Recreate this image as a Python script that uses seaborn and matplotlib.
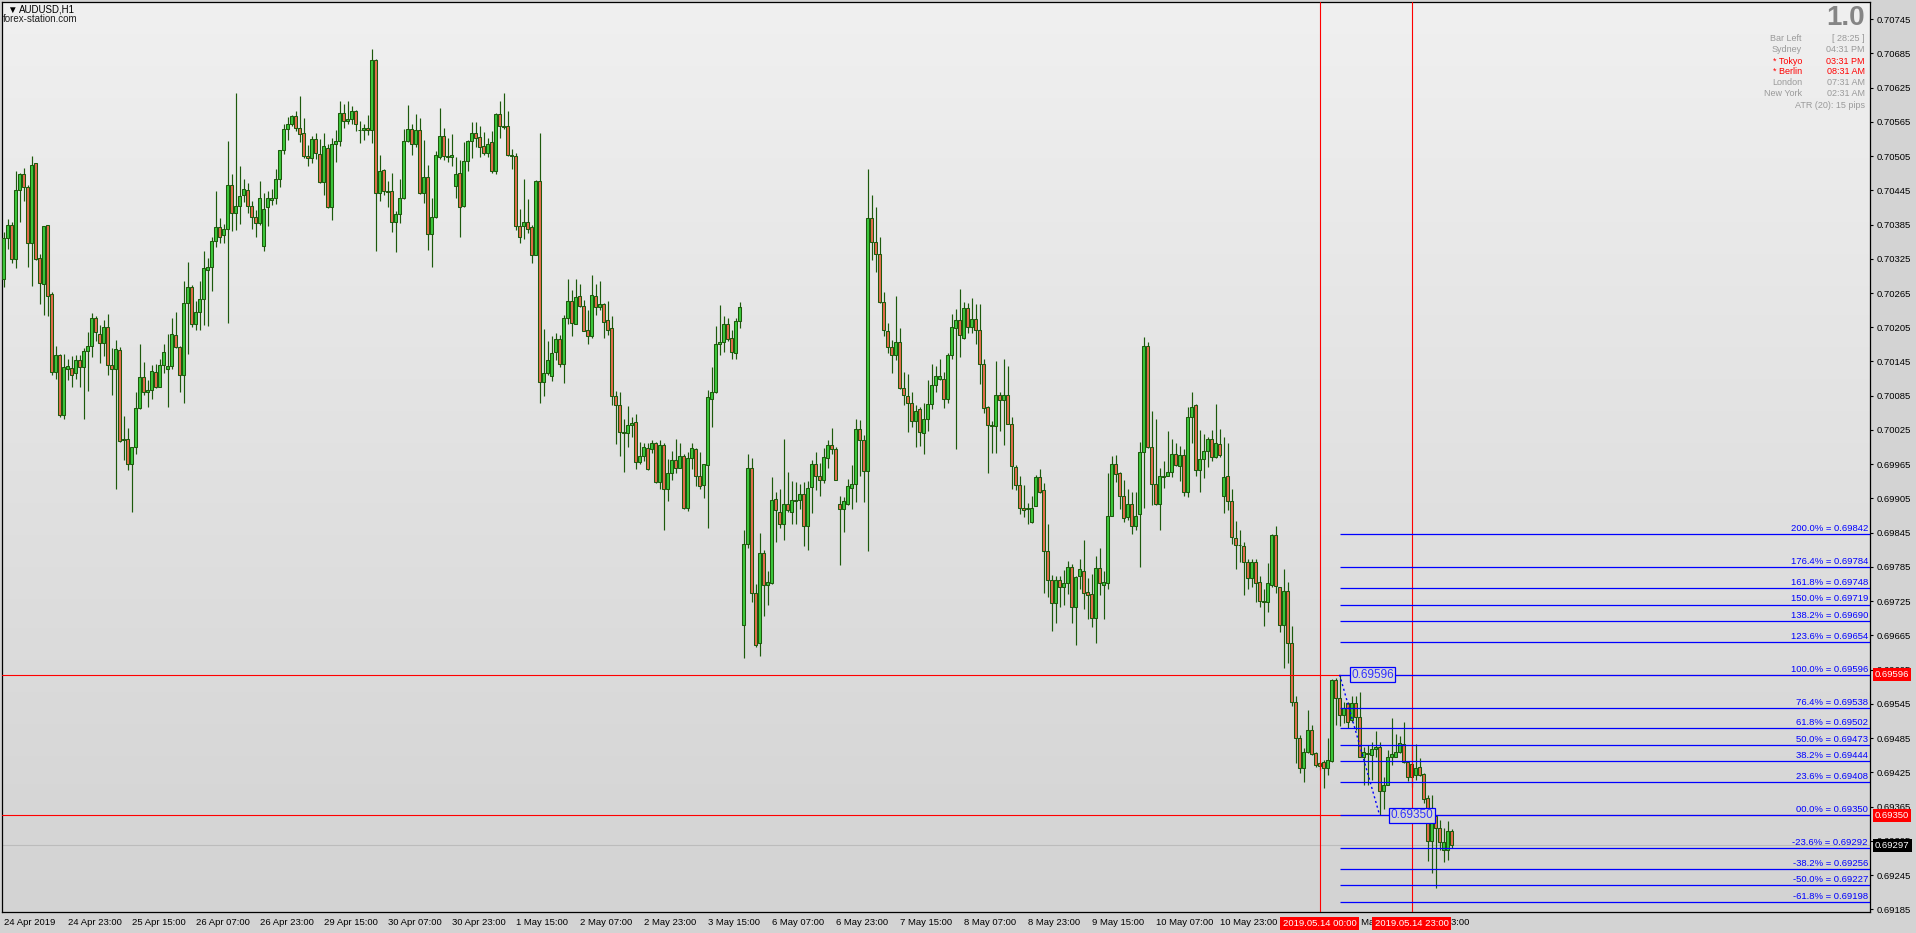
import numpy as np
import matplotlib
matplotlib.use("Agg")
import matplotlib.pyplot as plt
import matplotlib.transforms as mtransforms
from matplotlib.colors import LinearSegmentedColormap
from matplotlib.ticker import FormatStrFormatter
import seaborn as sns

# AUDUSD H1 candles, 24 Apr 2019 07:00 -> 15 May 2019 09:00
opens = [
    0.70289, 0.70362, 0.70384, 0.70324, 0.70445, 0.70473, 0.70451, 0.70353, 0.70492, 0.70326,
    0.70280, 0.70384, 0.70263, 0.70127, 0.70156, 0.70052, 0.70132, 0.70133, 0.70124, 0.70147,
    0.70136, 0.70163, 0.70172, 0.70222, 0.70194, 0.70177, 0.70206, 0.70138, 0.70131, 0.70165,
    0.70007, 0.70010, 0.69965, 0.69995, 0.70063, 0.70117, 0.70091, 0.70095, 0.70127, 0.70101,
    0.70138, 0.70132, 0.70137, 0.70191, 0.70171, 0.70121, 0.70247, 0.70275, 0.70211, 0.70232,
    0.70254, 0.70306, 0.70310, 0.70357, 0.70380, 0.70366, 0.70377, 0.70455, 0.70405, 0.70418,
    0.70437, 0.70445, 0.70417, 0.70398, 0.70387, 0.70347, 0.70415, 0.70428, 0.70431, 0.70464,
    0.70515, 0.70552, 0.70562, 0.70576, 0.70555, 0.70545, 0.70505, 0.70501, 0.70535, 0.70508,
    0.70460, 0.70520, 0.70416, 0.70527, 0.70531, 0.70581, 0.70567, 0.70570, 0.70584, 0.70551,
    0.70550, 0.70555, 0.70550, 0.70673, 0.70440, 0.70480, 0.70443, 0.70443, 0.70389, 0.70403,
    0.70431, 0.70531, 0.70552, 0.70526, 0.70550, 0.70441, 0.70468, 0.70368, 0.70399, 0.70504,
    0.70541, 0.70505, 0.70503, 0.70452, 0.70476, 0.70418, 0.70496, 0.70531, 0.70545, 0.70538,
    0.70522, 0.70511, 0.70529, 0.70478, 0.70578, 0.70557, 0.70557, 0.70506, 0.70505, 0.70382,
    0.70383, 0.70389, 0.70380, 0.70332, 0.70461, 0.70109, 0.70125, 0.70119, 0.70161, 0.70185,
    0.70141, 0.70221, 0.70251, 0.70211, 0.70259, 0.70242, 0.70200, 0.70189, 0.70259, 0.70241,
    0.70246, 0.70218, 0.70204, 0.70085, 0.70068, 0.70021, 0.70019, 0.70034, 0.70039, 0.69968,
    0.69979, 0.69993, 0.69992, 0.70003, 0.69934, 0.69999, 0.69921, 0.69949, 0.69973, 0.69959,
    0.69980, 0.69888, 0.69975, 0.69991, 0.69945, 0.69929, 0.69963, 0.70080, 0.70091, 0.70176,
    0.70180, 0.70210, 0.70186, 0.70160, 0.70216, 0.69684, 0.69826, 0.69958, 0.69740, 0.69651,
    0.69810, 0.69754, 0.69756, 0.69904, 0.69882, 0.69861, 0.69896, 0.69882, 0.69901, 0.69903,
    0.69912, 0.69857, 0.69925, 0.69965, 0.69945, 0.69938, 0.69975, 0.69998, 0.69992, 0.69896,
    0.69886, 0.69896, 0.69924, 0.69930, 0.70026, 0.70007, 0.69953, 0.70396, 0.70354, 0.70333,
    0.70249, 0.70198, 0.70171, 0.70156, 0.70179, 0.70098, 0.70084, 0.70073, 0.70041, 0.70061,
    0.70020, 0.70044, 0.70070, 0.70103, 0.70115, 0.70114, 0.70080, 0.70156, 0.70203, 0.70217,
    0.70187, 0.70238, 0.70206, 0.70219, 0.70200, 0.70140, 0.70065, 0.70033, 0.70032, 0.70086,
    0.70078, 0.70087, 0.70036, 0.69960, 0.69929, 0.69889, 0.69886, 0.69864, 0.69892, 0.69942,
    0.69919, 0.69813, 0.69762, 0.69721, 0.69762, 0.69749, 0.69756, 0.69784, 0.69714, 0.69769,
    0.69777, 0.69741, 0.69737, 0.69695, 0.69783, 0.69754, 0.69756, 0.69875, 0.69965, 0.69949,
    0.69910, 0.69873, 0.69896, 0.69856, 0.69877, 0.69986, 0.70173, 0.69996, 0.69930, 0.69896,
    0.69943, 0.69945, 0.69952, 0.69982, 0.69961, 0.69981, 0.69917, 0.70047, 0.70068, 0.69955,
    0.69974, 0.69988, 0.70009, 0.69977, 0.70000, 0.69909, 0.69945, 0.69900, 0.69836, 0.69824,
    0.69822, 0.69794, 0.69766, 0.69794, 0.69758, 0.69724, 0.69723, 0.69753, 0.69841, 0.69749,
    0.69684, 0.69742, 0.69651, 0.69549, 0.69486, 0.69433, 0.69460, 0.69500, 0.69458, 0.69441,
    0.69443, 0.69432, 0.69445, 0.69586, 0.69556, 0.69526, 0.69546, 0.69517, 0.69547, 0.69522,
    0.69452, 0.69457, 0.69455, 0.69465, 0.69469, 0.69393, 0.69402, 0.69451, 0.69452, 0.69461,
    0.69474, 0.69443, 0.69440, 0.69420, 0.69434, 0.69422, 0.69380, 0.69305, 0.69348, 0.69327,
    0.69288, 0.69288, 0.69323,
]
highs = [
    0.70372, 0.70394, 0.70390, 0.70479, 0.70475, 0.70484, 0.70454, 0.70505, 0.70493, 0.70333,
    0.70383, 0.70385, 0.70267, 0.70172, 0.70158, 0.70158, 0.70150, 0.70155, 0.70156, 0.70156,
    0.70169, 0.70197, 0.70230, 0.70224, 0.70209, 0.70217, 0.70228, 0.70168, 0.70182, 0.70171,
    0.70049, 0.70028, 0.69996, 0.70091, 0.70176, 0.70144, 0.70112, 0.70139, 0.70141, 0.70149,
    0.70176, 0.70194, 0.70222, 0.70231, 0.70172, 0.70286, 0.70319, 0.70279, 0.70251, 0.70286,
    0.70338, 0.70326, 0.70363, 0.70443, 0.70396, 0.70386, 0.70531, 0.70473, 0.70615, 0.70487,
    0.70464, 0.70457, 0.70426, 0.70410, 0.70461, 0.70440, 0.70444, 0.70447, 0.70482, 0.70515,
    0.70562, 0.70573, 0.70577, 0.70584, 0.70610, 0.70571, 0.70524, 0.70540, 0.70545, 0.70535,
    0.70545, 0.70527, 0.70536, 0.70551, 0.70601, 0.70597, 0.70601, 0.70593, 0.70586, 0.70566,
    0.70561, 0.70577, 0.70693, 0.70675, 0.70507, 0.70483, 0.70461, 0.70475, 0.70409, 0.70465,
    0.70552, 0.70594, 0.70562, 0.70579, 0.70571, 0.70533, 0.70490, 0.70431, 0.70513, 0.70589,
    0.70555, 0.70537, 0.70544, 0.70504, 0.70498, 0.70530, 0.70533, 0.70564, 0.70564, 0.70557,
    0.70547, 0.70536, 0.70549, 0.70581, 0.70602, 0.70615, 0.70584, 0.70517, 0.70511, 0.70412,
    0.70465, 0.70430, 0.70384, 0.70463, 0.70545, 0.70202, 0.70181, 0.70190, 0.70195, 0.70192,
    0.70227, 0.70290, 0.70270, 0.70290, 0.70281, 0.70253, 0.70235, 0.70297, 0.70281, 0.70286,
    0.70247, 0.70251, 0.70225, 0.70093, 0.70092, 0.70045, 0.70067, 0.70048, 0.70053, 0.70004,
    0.70002, 0.70002, 0.70008, 0.70004, 0.70008, 0.70002, 0.69974, 0.69988, 0.70009, 0.70002,
    0.69982, 0.69987, 0.70002, 0.69993, 0.69986, 0.69966, 0.70095, 0.70135, 0.70207, 0.70244,
    0.70225, 0.70222, 0.70200, 0.70222, 0.70250, 0.69850, 0.69983, 0.69976, 0.69755, 0.69844,
    0.69815, 0.69778, 0.69943, 0.69917, 0.69921, 0.70010, 0.69952, 0.69936, 0.69934, 0.69931,
    0.69934, 0.69935, 0.69973, 0.69986, 0.69967, 0.69993, 0.70007, 0.70028, 0.69996, 0.69909,
    0.69907, 0.69939, 0.69963, 0.70044, 0.70042, 0.70016, 0.70482, 0.70437, 0.70416, 0.70363,
    0.70266, 0.70212, 0.70183, 0.70260, 0.70203, 0.70126, 0.70123, 0.70091, 0.70069, 0.70066,
    0.70072, 0.70112, 0.70140, 0.70137, 0.70149, 0.70127, 0.70160, 0.70228, 0.70237, 0.70272,
    0.70249, 0.70247, 0.70256, 0.70246, 0.70246, 0.70150, 0.70067, 0.70041, 0.70146, 0.70091,
    0.70149, 0.70137, 0.70048, 0.69964, 0.69944, 0.69929, 0.69897, 0.69910, 0.69946, 0.69957,
    0.69932, 0.69860, 0.69771, 0.69769, 0.69769, 0.69780, 0.69795, 0.69790, 0.69769, 0.69798,
    0.69832, 0.69766, 0.69773, 0.69804, 0.69818, 0.69777, 0.69950, 0.69979, 0.69981, 0.69952,
    0.69938, 0.69921, 0.69916, 0.69916, 0.70004, 0.70188, 0.70179, 0.70059, 0.70045, 0.69958,
    0.69970, 0.70023, 0.70009, 0.70002, 0.69997, 0.69992, 0.70066, 0.70091, 0.70070, 0.70025,
    0.70018, 0.70013, 0.70025, 0.70070, 0.70027, 0.70013, 0.70002, 0.69921, 0.69865, 0.69850,
    0.69829, 0.69798, 0.69798, 0.69798, 0.69769, 0.69746, 0.69791, 0.69843, 0.69857, 0.69750,
    0.69782, 0.69759, 0.69682, 0.69559, 0.69491, 0.69467, 0.69534, 0.69508, 0.69460, 0.69444,
    0.69446, 0.69486, 0.69588, 0.69590, 0.69596, 0.69549, 0.69549, 0.69558, 0.69558, 0.69565,
    0.69470, 0.69473, 0.69478, 0.69498, 0.69478, 0.69416, 0.69464, 0.69521, 0.69493, 0.69489,
    0.69514, 0.69445, 0.69474, 0.69474, 0.69450, 0.69424, 0.69385, 0.69385, 0.69348, 0.69341,
    0.69327, 0.69340, 0.69325,
]
lows = [
    0.70275, 0.70343, 0.70318, 0.70308, 0.70390, 0.70427, 0.70311, 0.70278, 0.70323, 0.70246,
    0.70226, 0.70224, 0.70122, 0.70114, 0.70048, 0.70045, 0.70112, 0.70101, 0.70115, 0.70101,
    0.70045, 0.70094, 0.70152, 0.70181, 0.70143, 0.70154, 0.70121, 0.70086, 0.69922, 0.70004,
    0.69972, 0.69954, 0.69882, 0.69982, 0.70062, 0.70086, 0.70066, 0.70079, 0.70099, 0.70100,
    0.70124, 0.70066, 0.70132, 0.70169, 0.70092, 0.70073, 0.70158, 0.70205, 0.70200, 0.70200,
    0.70209, 0.70208, 0.70269, 0.70345, 0.70352, 0.70353, 0.70213, 0.70374, 0.70376, 0.70386,
    0.70425, 0.70406, 0.70378, 0.70364, 0.70385, 0.70339, 0.70383, 0.70420, 0.70421, 0.70450,
    0.70509, 0.70534, 0.70558, 0.70549, 0.70530, 0.70502, 0.70488, 0.70493, 0.70500, 0.70457,
    0.70437, 0.70414, 0.70393, 0.70495, 0.70523, 0.70555, 0.70561, 0.70561, 0.70549, 0.70528,
    0.70533, 0.70542, 0.70528, 0.70339, 0.70427, 0.70437, 0.70416, 0.70372, 0.70337, 0.70387,
    0.70430, 0.70530, 0.70506, 0.70521, 0.70439, 0.70423, 0.70341, 0.70311, 0.70396, 0.70499,
    0.70498, 0.70494, 0.70488, 0.70432, 0.70364, 0.70415, 0.70479, 0.70502, 0.70521, 0.70504,
    0.70507, 0.70504, 0.70475, 0.70474, 0.70537, 0.70552, 0.70505, 0.70483, 0.70375, 0.70352,
    0.70360, 0.70371, 0.70317, 0.70331, 0.70073, 0.70085, 0.70122, 0.70111, 0.70148, 0.70136,
    0.70108, 0.70211, 0.70189, 0.70210, 0.70240, 0.70198, 0.70175, 0.70187, 0.70226, 0.70235,
    0.70187, 0.70191, 0.70069, 0.70001, 0.69979, 0.69951, 0.69995, 0.70012, 0.69956, 0.69966,
    0.69970, 0.69955, 0.69984, 0.69932, 0.69922, 0.69849, 0.69901, 0.69938, 0.69949, 0.69958,
    0.69886, 0.69883, 0.69957, 0.69927, 0.69922, 0.69906, 0.69854, 0.70031, 0.70090, 0.70157,
    0.70161, 0.70181, 0.70150, 0.70150, 0.70203, 0.69626, 0.69818, 0.69724, 0.69644, 0.69628,
    0.69699, 0.69719, 0.69755, 0.69829, 0.69854, 0.69833, 0.69882, 0.69861, 0.69861, 0.69886,
    0.69822, 0.69815, 0.69880, 0.69920, 0.69910, 0.69932, 0.69958, 0.69983, 0.69937, 0.69789,
    0.69847, 0.69893, 0.69886, 0.69899, 0.69945, 0.69898, 0.69812, 0.70323, 0.70302, 0.70248,
    0.70190, 0.70159, 0.70125, 0.70148, 0.70096, 0.70068, 0.70022, 0.70031, 0.69996, 0.69997,
    0.69982, 0.70024, 0.70062, 0.70091, 0.70112, 0.70063, 0.70072, 0.70149, 0.69992, 0.70153,
    0.70185, 0.70195, 0.70195, 0.70176, 0.70105, 0.70055, 0.69950, 0.69985, 0.69984, 0.70024,
    0.69999, 0.70035, 0.69922, 0.69920, 0.69878, 0.69873, 0.69861, 0.69862, 0.69891, 0.69915,
    0.69740, 0.69733, 0.69672, 0.69687, 0.69715, 0.69718, 0.69738, 0.69686, 0.69649, 0.69747,
    0.69711, 0.69693, 0.69680, 0.69651, 0.69735, 0.69693, 0.69747, 0.69874, 0.69934, 0.69887,
    0.69864, 0.69867, 0.69842, 0.69850, 0.69784, 0.69889, 0.69993, 0.69894, 0.69894, 0.69849,
    0.69923, 0.69944, 0.69943, 0.69962, 0.69936, 0.69910, 0.69908, 0.70003, 0.69945, 0.69916,
    0.69941, 0.69960, 0.69970, 0.69976, 0.69978, 0.69880, 0.69885, 0.69825, 0.69781, 0.69794,
    0.69735, 0.69747, 0.69749, 0.69723, 0.69715, 0.69682, 0.69706, 0.69750, 0.69739, 0.69671,
    0.69608, 0.69616, 0.69541, 0.69442, 0.69423, 0.69408, 0.69458, 0.69455, 0.69435, 0.69429,
    0.69397, 0.69420, 0.69443, 0.69508, 0.69506, 0.69511, 0.69503, 0.69514, 0.69499, 0.69452,
    0.69403, 0.69402, 0.69412, 0.69452, 0.69350, 0.69361, 0.69402, 0.69438, 0.69452, 0.69459,
    0.69441, 0.69410, 0.69399, 0.69411, 0.69419, 0.69372, 0.69270, 0.69248, 0.69222, 0.69289,
    0.69268, 0.69271, 0.69292,
]
closes = [
    0.70361, 0.70384, 0.70324, 0.70445, 0.70473, 0.70450, 0.70352, 0.70490, 0.70325, 0.70282,
    0.70382, 0.70260, 0.70127, 0.70156, 0.70052, 0.70135, 0.70137, 0.70122, 0.70147, 0.70136,
    0.70163, 0.70172, 0.70222, 0.70196, 0.70177, 0.70206, 0.70138, 0.70132, 0.70166, 0.70006,
    0.70010, 0.69965, 0.69995, 0.70063, 0.70117, 0.70092, 0.70095, 0.70129, 0.70101, 0.70138,
    0.70161, 0.70137, 0.70193, 0.70171, 0.70121, 0.70247, 0.70275, 0.70211, 0.70232, 0.70254,
    0.70308, 0.70310, 0.70356, 0.70380, 0.70364, 0.70377, 0.70455, 0.70405, 0.70418, 0.70435,
    0.70447, 0.70417, 0.70398, 0.70387, 0.70431, 0.70412, 0.70432, 0.70431, 0.70464, 0.70515,
    0.70552, 0.70562, 0.70575, 0.70554, 0.70543, 0.70505, 0.70501, 0.70535, 0.70510, 0.70459,
    0.70522, 0.70416, 0.70526, 0.70531, 0.70581, 0.70567, 0.70570, 0.70584, 0.70562, 0.70550,
    0.70555, 0.70550, 0.70673, 0.70440, 0.70478, 0.70443, 0.70442, 0.70389, 0.70403, 0.70431,
    0.70531, 0.70552, 0.70526, 0.70550, 0.70441, 0.70468, 0.70368, 0.70399, 0.70506, 0.70541,
    0.70505, 0.70503, 0.70506, 0.70473, 0.70415, 0.70496, 0.70531, 0.70545, 0.70536, 0.70521,
    0.70511, 0.70527, 0.70478, 0.70578, 0.70557, 0.70556, 0.70506, 0.70505, 0.70382, 0.70363,
    0.70389, 0.70378, 0.70331, 0.70461, 0.70109, 0.70124, 0.70147, 0.70159, 0.70185, 0.70140,
    0.70221, 0.70251, 0.70212, 0.70258, 0.70242, 0.70199, 0.70189, 0.70261, 0.70240, 0.70246,
    0.70215, 0.70201, 0.70085, 0.70068, 0.70021, 0.70020, 0.70033, 0.70037, 0.69968, 0.69979,
    0.69995, 0.69957, 0.70003, 0.69934, 0.69999, 0.69921, 0.69949, 0.69973, 0.69959, 0.69980,
    0.69888, 0.69975, 0.69993, 0.69945, 0.69927, 0.69965, 0.70082, 0.70091, 0.70175, 0.70180,
    0.70210, 0.70185, 0.70161, 0.70216, 0.70240, 0.69825, 0.69958, 0.69740, 0.69649, 0.69809,
    0.69754, 0.69758, 0.69902, 0.69884, 0.69861, 0.69896, 0.69884, 0.69903, 0.69903, 0.69912,
    0.69856, 0.69924, 0.69965, 0.69945, 0.69938, 0.69977, 0.69998, 0.69992, 0.69938, 0.69886,
    0.69900, 0.69926, 0.69930, 0.70026, 0.70008, 0.69953, 0.70396, 0.70354, 0.70333, 0.70249,
    0.70200, 0.70171, 0.70156, 0.70179, 0.70098, 0.70086, 0.70072, 0.70041, 0.70059, 0.70022,
    0.70044, 0.70070, 0.70103, 0.70119, 0.70119, 0.70080, 0.70157, 0.70205, 0.70217, 0.70191,
    0.70238, 0.70206, 0.70219, 0.70200, 0.70140, 0.70063, 0.70033, 0.70032, 0.70086, 0.70078,
    0.70087, 0.70036, 0.69961, 0.69929, 0.69889, 0.69885, 0.69889, 0.69889, 0.69942, 0.69917,
    0.69813, 0.69762, 0.69721, 0.69762, 0.69749, 0.69756, 0.69784, 0.69714, 0.69767, 0.69781,
    0.69739, 0.69736, 0.69696, 0.69783, 0.69756, 0.69758, 0.69875, 0.69965, 0.69947, 0.69910,
    0.69871, 0.69896, 0.69856, 0.69875, 0.69986, 0.70172, 0.69995, 0.69930, 0.69896, 0.69944,
    0.69945, 0.69952, 0.69982, 0.69963, 0.69981, 0.69917, 0.70047, 0.70066, 0.69954, 0.69974,
    0.69988, 0.70010, 0.69977, 0.70002, 0.69981, 0.69942, 0.69900, 0.69837, 0.69824, 0.69823,
    0.69794, 0.69766, 0.69793, 0.69757, 0.69725, 0.69725, 0.69757, 0.69841, 0.69751, 0.69684,
    0.69742, 0.69652, 0.69549, 0.69486, 0.69433, 0.69461, 0.69500, 0.69457, 0.69438, 0.69436,
    0.69432, 0.69447, 0.69586, 0.69555, 0.69526, 0.69537, 0.69514, 0.69547, 0.69522, 0.69452,
    0.69460, 0.69458, 0.69465, 0.69469, 0.69393, 0.69402, 0.69451, 0.69457, 0.69461, 0.69476,
    0.69443, 0.69416, 0.69416, 0.69432, 0.69420, 0.69378, 0.69305, 0.69348, 0.69327, 0.69303,
    0.69303, 0.69323, 0.69297,
]

# time axis: one label every 16 bars
time_labels = [
    "24 Apr 2019", "24 Apr 23:00", "25 Apr 15:00", "26 Apr 07:00", "26 Apr 23:00",
    "29 Apr 15:00", "30 Apr 07:00", "30 Apr 23:00", "1 May 15:00", "2 May 07:00",
    "2 May 23:00", "3 May 15:00", "6 May 07:00", "6 May 23:00", "7 May 15:00",
    "8 May 07:00", "8 May 23:00", "9 May 15:00", "10 May 07:00", "10 May 23:00",
    "13 May 15:00", "14 May 07:00", "14 May 23:00",
]
label_step = 16

price_ticks = [
    0.70745, 0.70685, 0.70625, 0.70565, 0.70505, 0.70445, 0.70385, 0.70325, 0.70265,
    0.70205, 0.70145, 0.70085, 0.70025, 0.69965, 0.69905, 0.69845, 0.69785, 0.69725,
    0.69665, 0.69605, 0.69545, 0.69485, 0.69425, 0.69365, 0.69305, 0.69245, 0.69185,
]

# fibonacci tool
fib_names = ["200.0%", "176.4%", "161.8%", "150.0%", "138.2%", "123.6%", "100.0%", "76.4%",
             "61.8%", "50.0%", "38.2%", "23.6%", "00.0%", "-23.6%", "-38.2%", "-50.0%", "-61.8%"]
fib_values = [0.69842, 0.69784, 0.69748, 0.69719, 0.69690, 0.69654, 0.69596, 0.69538,
              0.69502, 0.69473, 0.69444, 0.69408, 0.69350, 0.69292, 0.69256, 0.69227, 0.69198]
swing_high, swing_high_bar = 0.69596, 334
swing_low, swing_low_bar = 0.69350, 344
bid = 0.69297

vline_bars = [329, 352]
vline_labels = ["2019.05.14 00:00", "2019.05.14 23:00"]

info_rows = [
    ("Bar Left", "[ 28:25 ]", "#9a9a9a"),
    ("Sydney", "04:31 PM", "#9a9a9a"),
    ("* Tokyo", "03:31 PM", "#ff0000"),
    ("* Berlin", "08:31 AM", "#ff0000"),
    ("London", "07:31 AM", "#9a9a9a"),
    ("New York", "02:31 AM", "#9a9a9a"),
]
atr_text = "ATR (20): 15 pips"

sns.set_style("white")
plt.rcParams["font.family"] = ["Liberation Sans", "DejaVu Sans"]

W, H = 1916, 933
fig = plt.figure(figsize=(W / 100, H / 100), dpi=100, facecolor="#d3d3d3")
ax = fig.add_axes([2 / W, 1 - 912 / H, 1868 / W, 910 / H])

# plot background gradient
grad = LinearSegmentedColormap.from_list("bg", ["#f0f0f0", "#d3d3d3"])
ax.imshow(np.linspace(0, 1, 256).reshape(-1, 1), extent=(0, 1, 0, 1), transform=ax.transAxes,
          cmap=grad, aspect="auto", zorder=0)

o = np.array(opens)
h = np.array(highs)
l = np.array(lows)
c = np.array(closes)
x = np.arange(len(c))
edge = "#1d5a0c"
fills = np.where(c >= o, "#3cc83c", "#e36c4c")

ax.axhline(bid, color="#bcbcbc", lw=0.8, zorder=1)
ax.vlines(x, l, h, colors=edge, lw=0.85, zorder=3)
ax.bar(x, np.maximum(np.abs(c - o), 1.2e-5), bottom=np.minimum(o, c), width=0.76,
       color=fills, edgecolor=edge, linewidth=0.75, zorder=4)

xmin, xmax = -0.4, 466.6
ymin, ymax = 0.691802, 0.70775

# red marker lines
for p in (swing_high, swing_low):
    ax.axhline(p, color="#ff0000", lw=0.8, zorder=5)
for b in vline_bars:
    ax.axvline(b, color="#ff0000", lw=0.8, zorder=5)

# fibonacci levels
ax.hlines(fib_values, swing_high_bar, xmax, colors="#0000ff", lw=0.9, zorder=5)
sns.lineplot(x=[swing_high_bar, swing_low_bar], y=[swing_high, swing_low], ax=ax,
             color="#0000ff", lw=1.0, linestyle=(0, (1.5, 2)), zorder=6)
yblend = mtransforms.blended_transform_factory(ax.transAxes, ax.transData)
for name, v in zip(fib_names, fib_values):
    ax.text(1 - 2 / 1868, v + 0.00002, f"{name} = {v:.5f}", transform=yblend, ha="right",
            va="bottom", fontsize=6.8, color="#0000ff", zorder=7)

ax.text(swing_high_bar + 2.9, swing_high, f"{swing_high:.5f}", ha="left", va="center",
        fontsize=8.5, color="#3030ff", zorder=7,
        bbox=dict(boxstyle="square,pad=0.12", fc="#dadada", ec="#0000ff", lw=0.9))
ax.text(swing_low_bar + 2.7, swing_low, f"{swing_low:.5f}", ha="left", va="center",
        fontsize=8.5, color="#3030ff", zorder=7,
        bbox=dict(boxstyle="square,pad=0.12", fc="#d6d6d6", ec="#0000ff", lw=0.9))

ax.set_xlim(xmin, xmax)
ax.set_ylim(ymin, ymax)

# axes styling
ax.yaxis.tick_right()
ax.set_yticks(price_ticks)
ax.yaxis.set_major_formatter(FormatStrFormatter("%.5f"))
ax.set_xticks(np.arange(len(time_labels)) * label_step)
ax.set_xticklabels(time_labels, ha="left")
ax.tick_params(axis="y", which="both", direction="out", length=2.4, width=0.8, pad=2.2,
               labelsize=6.8, colors="black", left=False, right=True)
ax.tick_params(axis="x", direction="out", length=2.4, width=0.8, pad=2.0, labelsize=6.8,
               colors="black")
for s in ax.spines.values():
    s.set_visible(True)
    s.set_color("black")
    s.set_linewidth(0.9)
ax.grid(False)

# price boxes on the right scale
for p, fc in ((swing_high, "#ff0000"), (swing_low, "#ff0000"), (bid, "#000000")):
    ax.text(1 + 5 / 1868, p, f"{p:.5f}", transform=yblend, ha="left", va="center", fontsize=6.8,
            color="white", clip_on=False, zorder=10,
            bbox=dict(boxstyle="square,pad=0.22", fc=fc, ec="none"))

# time boxes of the vertical lines
xblend = mtransforms.blended_transform_factory(ax.transData, ax.transAxes)
for b, lab in zip(vline_bars, vline_labels):
    ax.text(b, -11.5 / 910, lab, transform=xblend, ha="center", va="center", fontsize=6.8,
            color="white", clip_on=False, zorder=10,
            bbox=dict(boxstyle="square,pad=0.25", fc="#ff0000", ec="none"))

# header texts
fig.text(7 / W, 1 - 10 / H, "\u25bc", fontsize=7, va="center", ha="left", color="black")
fig.text(19 / W, 1 - 10 / H, "AUDUSD,H1", fontsize=7, va="center", ha="left", color="black")
fig.text(3 / W, 1 - 19.5 / H, "forex-station.com", fontsize=7, va="center", ha="left",
         color="#202020")

fig.text(1865 / W, 1 - 18 / H, "1.0", fontsize=20, fontweight="bold", va="center", ha="right",
         color="#858585")
row_y = [38.7, 50.0, 61.0, 71.7, 82.7, 93.7]
for (name, val, col), yy in zip(info_rows, row_y):
    fig.text(1802 / W, 1 - yy / H, name, fontsize=6.5, va="center", ha="right", color=col)
    fig.text(1865 / W, 1 - yy / H, val, fontsize=6.5, va="center", ha="right", color=col)
fig.text(1865 / W, 1 - 105 / H, atr_text, fontsize=6.5, va="center", ha="right", color="#9a9a9a")

fig.savefig("out.png", dpi=100, facecolor=fig.get_facecolor())
